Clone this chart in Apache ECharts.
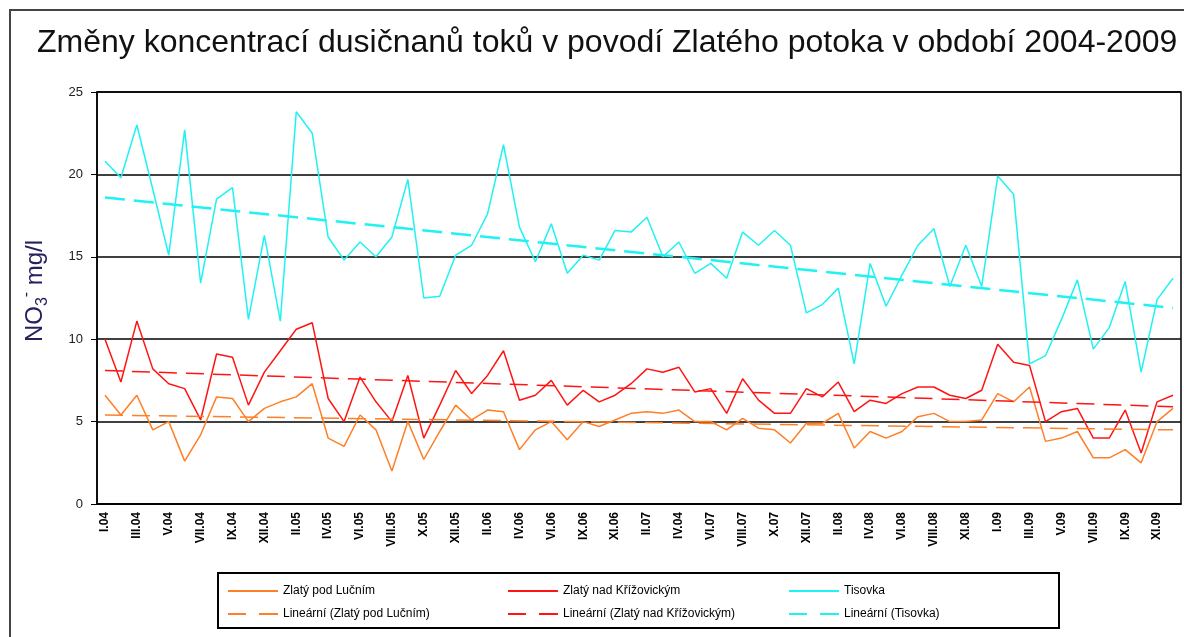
<!DOCTYPE html>
<html>
<head>
<meta charset="utf-8">
<title>Změny koncentrací dusičnanů</title>
<script src="https://cdn.jsdelivr.net/npm/echarts@6/dist/echarts.min.js"></script>
<style>
    html, body { margin: 0; padding: 0; background: #fff; }
    #chart { width: 1184px; height: 637px; }
</style>
</head>
<body>
<div id="chart"></div>
<script>
// kategorie (odběry) - popisky jen u každé druhé
var months = [
    'I.04', 'II.04', 'III.04', 'IV.04', 'V.04', 'VI.04', 'VII.04', 'VIII.04', 'IX.04', 'X.04',
    'XII.04', 'I.05', 'II.05', 'III.05', 'IV.05', 'V.05', 'VI.05', 'VII.05', 'VIII.05', 'IX.05',
    'X.05', 'XI.05', 'XII.05', 'I.06', 'II.06', 'III.06', 'IV.06', 'V.06', 'VI.06', 'VIII.06',
    'IX.06', 'X.06', 'XI.06', 'I.07', 'II.07', 'III.07', 'IV.04', 'V.07', 'VI.07', 'VII.07',
    'VIII.07', 'IX.07', 'X.07', 'XI.07', 'XII.07', 'I.08', 'II.08', 'III.08', 'IV.08', 'V.08',
    'VI.08', 'VII.08', 'VIII.08', 'X.08', 'XI.08', 'XII.08', 'I.09', 'II.09', 'III.09', 'IV.09',
    'V.09', 'VI.09', 'VII.09', 'VIII.09', 'IX.09', 'X.09', 'XI.09', 'XII.09'
];

var podLucnim = [
    6.6, 5.4, 6.6, 4.5, 5.0, 2.6, 4.2, 6.5, 6.4, 5.0,
    5.8, 6.2, 6.5, 7.3, 4.0, 3.5, 5.4, 4.5, 2.0, 5.0,
    2.7, 4.4, 6.0, 5.1, 5.7, 5.6, 3.3, 4.5, 5.0, 3.9,
    5.0, 4.7, 5.1, 5.5, 5.6, 5.5, 5.7, 5.0, 5.0, 4.5,
    5.2, 4.6, 4.5, 3.7, 4.9, 4.9, 5.5, 3.4, 4.4, 4.0,
    4.4, 5.3, 5.5, 5.0, 5.0, 5.1, 6.7, 6.2, 7.1, 3.8,
    4.0, 4.4, 2.8, 2.8, 3.3, 2.5, 5.0, 5.8
];

var nadKrizovickym = [
    10.0, 7.4, 11.1, 8.2, 7.3, 7.0, 5.1, 9.1, 8.9, 6.0,
    8.0, 9.3, 10.6, 11.0, 6.4, 5.0, 7.7, 6.2, 5.0, 7.8,
    4.0, 6.0, 8.1, 6.7, 7.8, 9.3, 6.3, 6.6, 7.5, 6.0,
    6.9, 6.2, 6.6, 7.3, 8.2, 8.0, 8.3, 6.8, 7.0, 5.5,
    7.6, 6.3, 5.5, 5.5, 7.0, 6.5, 7.4, 5.6, 6.3, 6.1,
    6.7, 7.1, 7.1, 6.6, 6.4, 6.9, 9.7, 8.6, 8.4, 5.0,
    5.6, 5.8, 4.0, 4.0, 5.7, 3.1, 6.2, 6.6
];

var tisovka = [
    20.8, 19.8, 23.0, 19.1, 15.1, 22.7, 13.4, 18.5, 19.2, 11.2,
    16.3, 11.1, 23.8, 22.5, 16.2, 14.8, 15.9, 15.0, 16.2, 19.7,
    12.5, 12.6, 15.1, 15.7, 17.6, 21.8, 16.8, 14.7, 17.0, 14.0,
    15.1, 14.8, 16.6, 16.5, 17.4, 15.0, 15.9, 14.0, 14.6, 13.7,
    16.5, 15.7, 16.6, 15.7, 11.6, 12.1, 13.1, 8.5, 14.6, 12.0,
    13.9, 15.7, 16.7, 13.2, 15.7, 13.2, 19.9, 18.8, 8.5, 9.0,
    11.2, 13.6, 9.4, 10.7, 13.5, 8.0, 12.4, 13.7
];

// lineární trendy - hodnota na začátku a na konci období
var trendPod = [5.4, 4.5];
var trendNad = [8.1, 5.9];
var trendTis = [18.6, 11.9];

var yTicks = [0, 5, 10, 15, 20, 25];

var cOrange = '#ff7f27';
var cRed = '#ff1414';
var cCyan = '#1ff2f2';

// ikony legendy: plná čára a přerušovaná čára
var iconSolid = 'path://M0,0H50V2H0Z';
var iconDash = 'path://M0,0H18V2H0Z M31,0H50V2H31Z';

function trendData(t) {
    return [[0, t[0]], [months.length - 1, t[1]]];
}

function legendCol(left, a, b) {
    return {
        orient: 'vertical', left: left, top: 580, itemGap: 11, itemWidth: 50, itemHeight: 2,
        textStyle: { fontFamily: 'Liberation Sans', fontSize: 12, color: '#000' },
        data: [{ name: a, icon: iconSolid }, { name: b, icon: iconDash }]
    };
}

var chart = echarts.init(document.getElementById('chart'));
var option = {
    animation: false,
    backgroundColor: '#fff',
    title: {
        text: 'Změny koncentrací dusičnanů toků v povodí Zlatého potoka v období 2004-2009',
        left: 32,
        top: 22,
        textStyle: { fontFamily: 'Liberation Sans', fontSize: 32, fontWeight: 'normal', color: '#111' }
    },
    grid: {
        left: 97, right: 3, top: 92, bottom: 133,
        show: true, borderColor: '#000', borderWidth: 1.5
    },
    legend: [
        legendCol(223, 'Zlatý pod Lučním', 'Lineární (Zlatý pod Lučním)'),
        legendCol(503, 'Zlatý nad Křížovickým', 'Lineární (Zlatý nad Křížovickým)'),
        legendCol(784, 'Tisovka', 'Lineární (Tisovka)')
    ],
    xAxis: {
        type: 'category',
        data: months,
        boundaryGap: true,
        axisLine: { lineStyle: { color: '#000', width: 1.5 } },
        axisTick: { interval: 0, length: 5, lineStyle: { color: '#000' } },
        axisLabel: {
            interval: 1, rotate: 90, margin: 8,
            fontFamily: 'Liberation Sans', fontSize: 12, fontWeight: 'bold', color: '#000'
        },
        splitLine: { show: false }
    },
    yAxis: {
        type: 'value',
        min: yTicks[0],
        max: yTicks[yTicks.length - 1],
        interval: 5,
        axisLine: { show: true, lineStyle: { color: '#000', width: 1.5 } },
        axisTick: { show: true, length: 6, lineStyle: { color: '#000' } },
        axisLabel: { margin: 14, fontFamily: 'Liberation Sans', fontSize: 13, color: '#222' },
        splitLine: { lineStyle: { color: '#000', width: 1.5 } }
    },
    graphic: [
        { type: 'rect', shape: { x: 10, y: 10, width: 1200, height: 700 },
          style: { fill: 'none', stroke: '#444', lineWidth: 2 }, silent: true },
        { type: 'rect', shape: { x: 218, y: 573, width: 841, height: 55 },
          style: { fill: 'none', stroke: '#000', lineWidth: 2 }, silent: true },
        { type: 'text', x: 35, y: 291, rotation: Math.PI / 2,
          style: {
              text: '{a|NO}{b|3}{c|-}{a| mg/l}',
              align: 'center', verticalAlign: 'middle',
              fill: '#26215c',
              rich: {
                  a: { fontFamily: 'Liberation Sans', fontSize: 24, lineHeight: 32, fill: '#26215c' },
                  b: { fontFamily: 'Liberation Sans', fontSize: 16, verticalAlign: 'bottom', lineHeight: 14, fill: '#26215c' },
                  c: { fontFamily: 'Liberation Sans', fontSize: 16, verticalAlign: 'top', lineHeight: 14, fill: '#26215c' }
              }
          }
        }
    ],
    series: [
        { name: 'Zlatý pod Lučním', type: 'line', data: podLucnim, symbol: 'none',
          lineStyle: { color: cOrange, width: 1.5 }, itemStyle: { color: cOrange } },
        { name: 'Zlatý nad Křížovickým', type: 'line', data: nadKrizovickym, symbol: 'none',
          lineStyle: { color: cRed, width: 1.5 }, itemStyle: { color: cRed } },
        { name: 'Tisovka', type: 'line', data: tisovka, symbol: 'none',
          lineStyle: { color: cCyan, width: 1.5 }, itemStyle: { color: cCyan } },
        { name: 'Lineární (Zlatý pod Lučním)', type: 'line', data: trendData(trendPod), symbol: 'none',
          lineStyle: { color: cOrange, width: 1.5, type: [18, 9] }, itemStyle: { color: cOrange } },
        { name: 'Lineární (Zlatý nad Křížovickým)', type: 'line', data: trendData(trendNad), symbol: 'none',
          lineStyle: { color: cRed, width: 1.5, type: [18, 9] }, itemStyle: { color: cRed } },
        { name: 'Lineární (Tisovka)', type: 'line', data: trendData(trendTis), symbol: 'none',
          lineStyle: { color: cCyan, width: 2.5, type: [20, 9] }, itemStyle: { color: cCyan } }
    ]
};
chart.setOption(option);
</script>
</body>
</html>
